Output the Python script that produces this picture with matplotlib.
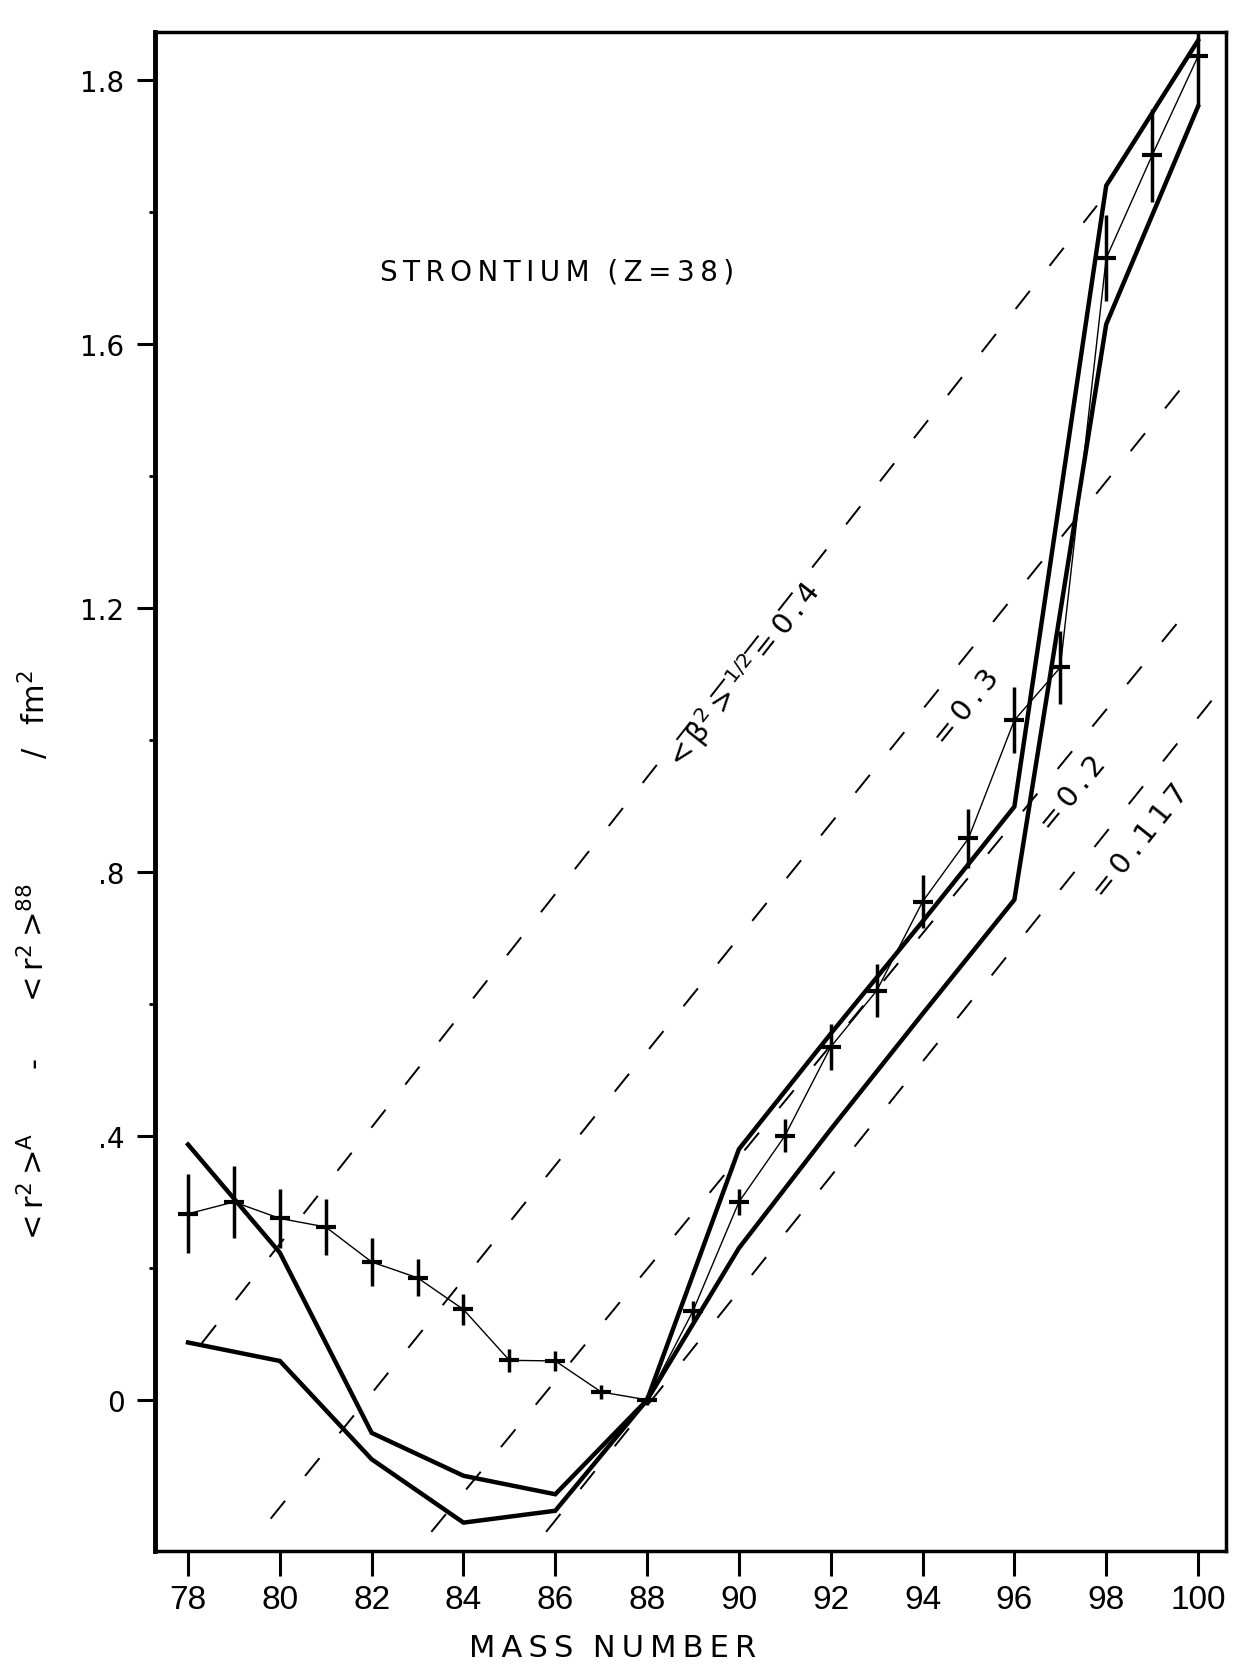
import numpy as np
import matplotlib.pyplot as plt

masses = list(range(78, 101))
dr2 = [0.282, 0.30, 0.275, 0.262, 0.209, 0.185, 0.137, 0.06, 0.059, 0.012, 0.0,
       0.135, 0.30, 0.40, 0.535, 0.62, 0.755, 0.851, 1.03, 1.11, 1.73, 1.886, 2.036]
dr2_err = [0.06, 0.055, 0.045, 0.043, 0.036, 0.028, 0.024, 0.017, 0.015, 0.01, 0.008,
           0.015, 0.02, 0.025, 0.035, 0.04, 0.04, 0.045, 0.05, 0.055, 0.065, 0.07, 0.075]

# the two thick model curves
curve_masses = [78, 80, 82, 84, 86, 88, 90, 92, 94, 96, 98, 100]
curve_upper = [0.387, 0.223, -0.05, -0.115, -0.143, 0.0, 0.38, 0.555, 0.725, 0.899, 1.84, 2.06]
curve_lower = [0.087, 0.059, -0.09, -0.186, -0.168, 0.0, 0.23, 0.41, 0.585, 0.758, 1.63, 1.96]

# dashed lines of constant deformation <beta2>^1/2 (start and end points)
beta_names = ['0.4', '0.3', '0.2', '0.117']
beta_a0 = [78.3, 79.8, 83.3, 85.8]
beta_v0 = [0.086, -0.18, -0.20, -0.20]
beta_a1 = [97.8, 99.6, 99.7, 100.3]
beta_v1 = [1.81, 1.53, 1.19, 1.06]
label_a = [90.1, 94.95, 97.28, 98.74]
label_v = [1.10, 1.05, 0.92, 0.848]

# y axis as printed: evenly spaced ticks, top one labelled 1.8
ytick_pos = [0, 0.4, 0.8, 1.2, 1.6, 2.0]
ytick_lab = ['0', '.4', '.8', '1.2', '1.6', '1.8']
yminor_pos = [0.2, 0.6, 1.0, 1.4, 1.8]
xtick_pos = list(range(78, 101, 2))

TS = '\u2009'  # thin space for the letter spaced captions


def spaced(s):
    return TS.join(s)


plt.rcParams['font.family'] = ['DejaVu Sans']
plt.rcParams['mathtext.fontset'] = 'dejavusans'

fig = plt.figure(figsize=(12.37, 16.65), dpi=100)
ax = fig.add_axes([155 / 1237, 1 - 1552 / 1665, (1226 - 155) / 1237, (1552 - 33) / 1665])
ax.set_xlim(77.28, 100.61)
ax.set_ylim(-0.229, 2.073)

# dashed deformation lines
for a0, v0, a1, v1 in zip(beta_a0, beta_v0, beta_a1, beta_v1):
    ax.plot([a0, a1], [v0, v1], color='k', lw=1.4, dashes=(11.8, 16.4), zorder=1)

# thick model curves
ax.plot(curve_masses, curve_upper, color='k', lw=3.2, solid_joinstyle='miter', zorder=2)
ax.plot(curve_masses, curve_lower, color='k', lw=3.2, solid_joinstyle='miter', zorder=2)

# experimental points
ax.plot(masses, dr2, color='k', lw=1.0, zorder=3)
ax.errorbar(masses, dr2, yerr=dr2_err, fmt='_', color='k', ms=14, mew=3.0,
            ecolor='k', elinewidth=2.5, capsize=0, zorder=4)

# labels of the dashed lines, turned along the lines
texts = ['<' + TS + 'β$^{2}$' + TS + '>' + TS + '$^{1/2}$' + TS + spaced('=0.4'),
         spaced('=0.3'), spaced('=0.2'), spaced('=0.117')]
for i, t in enumerate(texts):
    p0 = ax.transData.transform((beta_a0[i], beta_v0[i]))
    p1 = ax.transData.transform((beta_a1[i], beta_v1[i]))
    ang = np.degrees(np.arctan2(p1[1] - p0[1], p1[0] - p0[0]))
    ax.text(label_a[i], label_v[i], t, fontsize=21, rotation=ang,
            rotation_mode='anchor', ha='center', va='center', zorder=5)

ax.text(86.04, 1.71, spaced('STRONTIUM') + '  ' + spaced('(Z=38)'),
        fontsize=20, ha='center', va='center')

ax.set_xticks(xtick_pos)
ax.set_xticklabels([str(m) for m in xtick_pos], family=['Liberation Sans', 'DejaVu Sans'],
                   fontsize=24)
ax.set_yticks(ytick_pos)
ax.set_yticklabels(ytick_lab, fontsize=20)
ax.set_yticks(yminor_pos, minor=True)
ax.tick_params(axis='x', direction='out', length=18, width=2.2, pad=6)
ax.tick_params(axis='y', which='major', direction='out', length=13, width=2.2, pad=9)
ax.tick_params(axis='y', which='minor', direction='out', length=4, width=2)

ax.spines['left'].set_linewidth(3.5)
for s in ['top', 'right', 'bottom']:
    ax.spines[s].set_linewidth(2.5)

fig.text(613 / 1237, 1 - 1649 / 1665, spaced('MASS') + '  ' + spaced('NUMBER'),
         fontsize=22, ha='center', va='center')

# y axis title, spread out along the axis as in the original
ylab_parts = ['<' + TS + 'r$^2$' + TS + '>$^{\\mathrm{A}}$', '-',
              '<' + TS + 'r$^2$' + TS + '>$^{88}$', '/' + TS * 4 + 'fm$^2$']
ylab_y = [1186, 1062, 943, 715]
for t, y in zip(ylab_parts, ylab_y):
    fig.text(34 / 1237, 1 - y / 1665, t, fontsize=22, rotation=90,
             ha='center', va='center')

fig.savefig('out.png', dpi=100)
